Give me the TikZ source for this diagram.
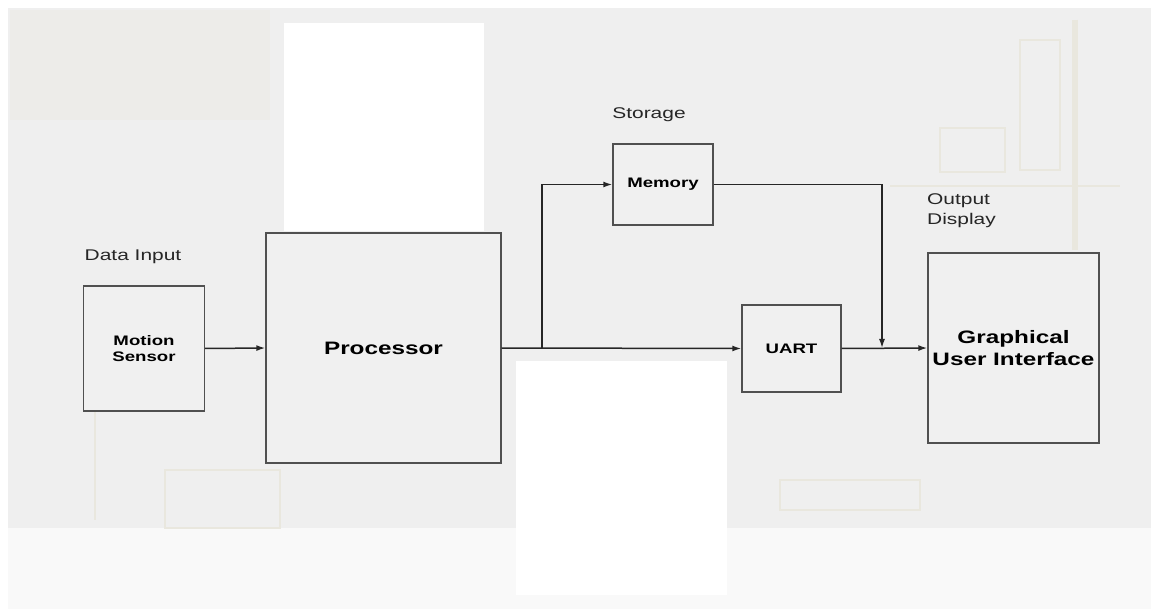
\documentclass[tikz,border=0pt]{standalone}
\usepackage{fontspec}
\setmainfont{Liberation Sans}
\newfontfamily\wfont[FakeStretch=1.35]{Liberation Sans}
\usetikzlibrary{arrows.meta}
\definecolor{bggray}{HTML}{EFEFEF}
\definecolor{boxfill}{HTML}{F0F0F0}
\definecolor{boxline}{HTML}{505050}
\definecolor{faint}{HTML}{E6E4D6}
\tikzset{
  box/.style={draw=boxline, line width=1.4pt, fill=boxfill, align=center, inner sep=0pt},
  smallbold/.style={font=\wfont\bfseries\fontsize{13.8}{16.7}\selectfont},
  bigbold/.style={font=\wfont\bfseries\fontsize{18}{21.7}\selectfont},
  lbl/.style={font=\wfont\fontsize{15.5}{20}\selectfont, text=black!85, inner sep=0pt},
  arr/.style={draw=black!85, line width=1.5pt, -{Latex[length=9pt,width=6pt]}},
  ln/.style={draw=black!85, line width=1.5pt}
}
\begin{document}
\begin{tikzpicture}[x=1pt,y=-1pt]
\useasboundingbox (0,0) rectangle (1151,609);
% background
\fill[white] (0,0) rectangle (1151,609);
\fill[bggray] (8,8) rectangle (1151,528);
\fill[white!60!bggray] (8,528) rectangle (1151,609);
% faint board details
\fill[faint!25!bggray] (10,10) rectangle (270,120);
\draw[faint!70!bggray, line width=2pt] (940,128) rectangle (1005,172);
\draw[faint!70!bggray, line width=2pt] (1020,40) rectangle (1060,170);
\draw[faint!70!bggray, line width=6pt] (1075,20) -- (1075,250);
\draw[faint!70!bggray, line width=2pt] (890,186) -- (1120,186);
\draw[faint!70!bggray, line width=2pt] (780,480) rectangle (920,510);
\draw[faint!70!bggray, line width=2pt] (95,360) -- (95,520);
\draw[faint!70!bggray, line width=2pt] (165,470) rectangle (280,528);
% white panels
\fill[white] (284,23) rectangle (484,231);
\fill[white] (516,361) rectangle (727,595);
% blocks
\node[box, smallbold, minimum width=121pt, minimum height=125pt] (ms) at (144,348.5) {Motion\\Sensor};
\node[box, bigbold, minimum width=235pt, minimum height=230pt] (proc) at (383.5,348) {Processor};
\node[box, smallbold, minimum width=100pt, minimum height=81pt] (mem) at (663,184.5) {Memory};
\node[box, smallbold, minimum width=99pt, minimum height=87pt] (uart) at (791.5,348.5) {UART};
\node[box, bigbold, minimum width=171pt, minimum height=190pt] (gui) at (1013.5,348) {Graphical\\User Interface};
% labels
\node[lbl] (l1) at (133,257) {Data Input};
\node[lbl] (l2) at (649,115) {Storage};
\node[lbl, anchor=north west, align=left] (l3) at (927,193) {Output\\Display};
% connectors
\coordinate (br) at (542,348);
\coordinate (jn) at (882,348);
\draw[arr] (ms.east) -- (proc.west);
\draw[arr] (proc.east) -- (uart.west);
\draw[arr] (br) |- (mem.west);
\draw[arr] (mem.east) -| (jn);
\draw[arr] (uart.east) -- (gui.west);
\end{tikzpicture}
\end{document}
